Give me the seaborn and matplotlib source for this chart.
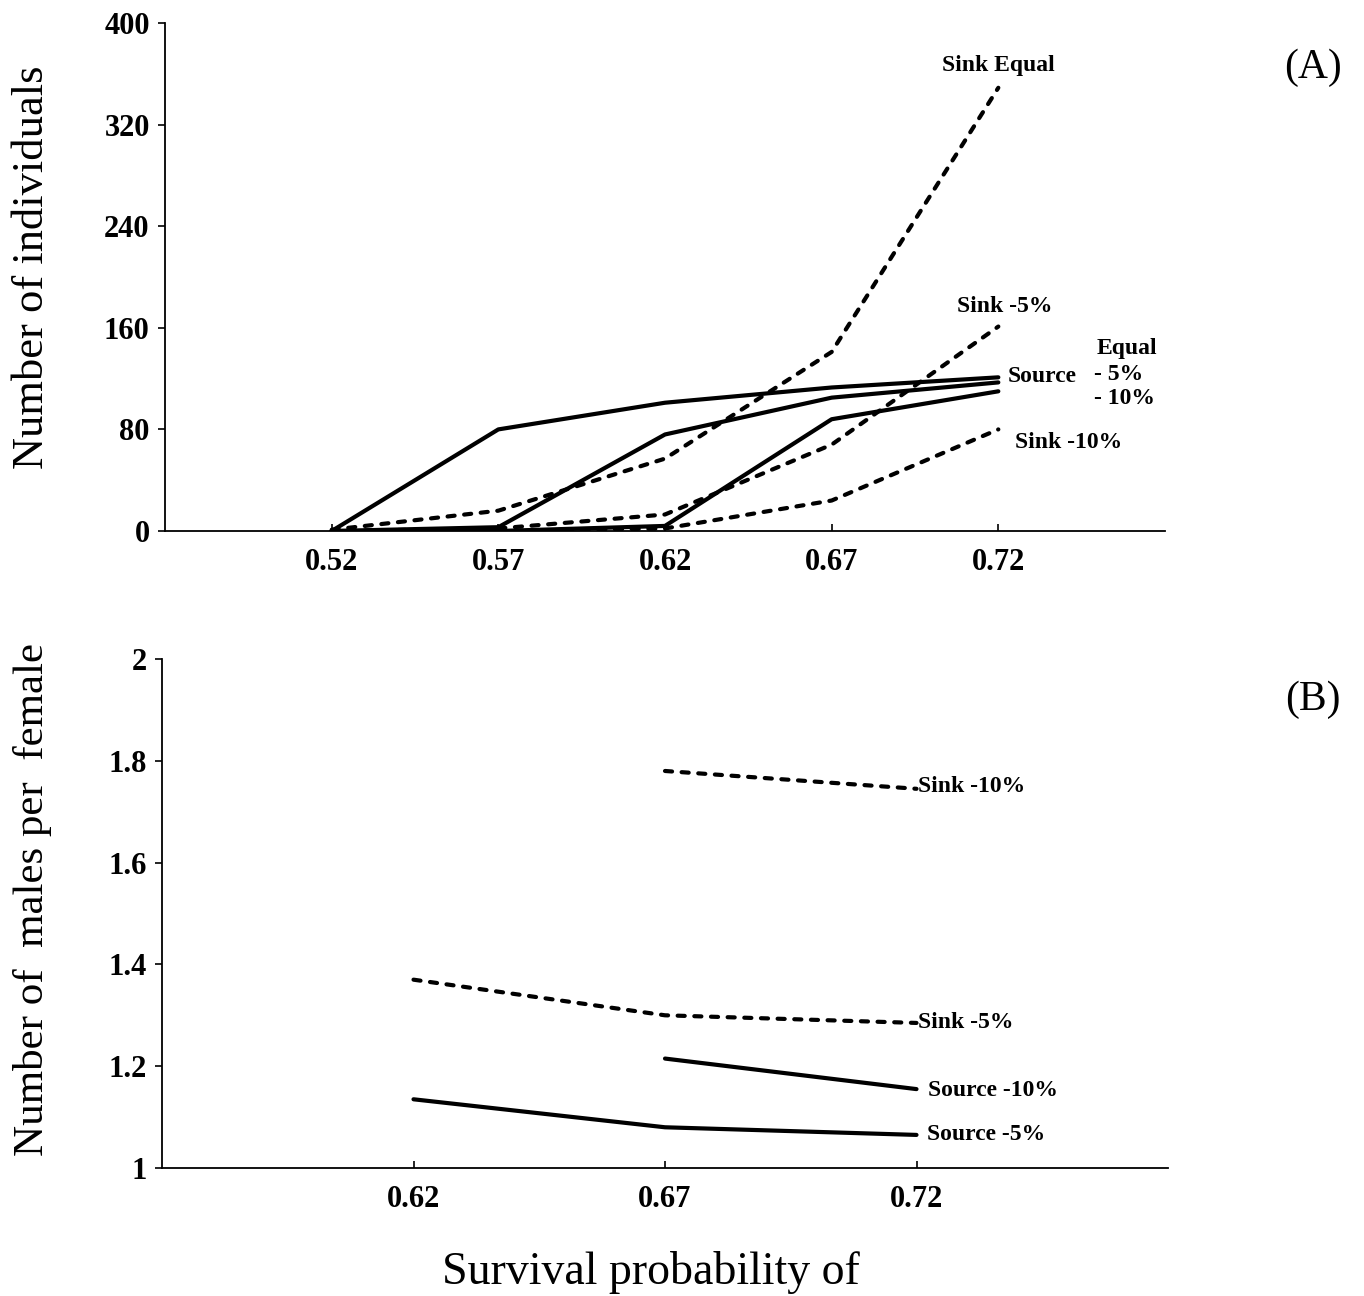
import numpy as np
import pandas as pd
import matplotlib
matplotlib.use("Agg")
import matplotlib.pyplot as plt
import seaborn as sns

# ---------------- data ----------------
# Panel A: number of individuals vs survival probability
surv_a = [0.52, 0.57, 0.62, 0.67, 0.72]
source_equal = [0, 80, 101, 113, 121]
source_m5 = [0, 3, 76, 105, 117]
source_m10 = [0, 0, 4, 88, 110]
sink_equal = [1, 16, 57, 141, 349]
sink_m5 = [0, 2, 13, 68, 161]
sink_m10 = [0, 0, 2, 24, 80]

# Panel B: number of males per female
surv_b = [0.62, 0.67, 0.72]
b_sink_m10 = [np.nan, 1.78, 1.745]
b_sink_m5 = [1.37, 1.30, 1.285]
b_source_m10 = [np.nan, 1.215, 1.155]
b_source_m5 = [1.135, 1.08, 1.065]

xticks_a = [0.52, 0.57, 0.62, 0.67, 0.72]
xticks_b = [0.62, 0.67, 0.72]
yticks_a = [0, 80, 160, 240, 320, 400]
yticks_b = [1, 1.2, 1.4, 1.6, 1.8, 2]
ytick_labels_b = ["1", "1.2", "1.4", "1.6", "1.8", "2"]

# ---------------- style ----------------
sns.set_style("ticks")
plt.rcParams["font.family"] = ["Liberation Serif", "DejaVu Serif"]
plt.rcParams["text.color"] = "black"
plt.rcParams["axes.labelcolor"] = "black"
plt.rcParams["xtick.color"] = "black"
plt.rcParams["ytick.color"] = "black"

W, H = 1364, 1296
fig = plt.figure(figsize=(W / 100, H / 100), dpi=100)


def long_frame(x, series):
    rows = []
    for name, kind, vals in series:
        for xi, v in zip(x, vals):
            rows.append({"surv": xi, "value": v, "series": name, "kind": kind})
    return pd.DataFrame(rows).dropna()


dfA = long_frame(surv_a, [
    ("Source Equal", "Source", source_equal),
    ("Source -5%", "Source", source_m5),
    ("Source -10%", "Source", source_m10),
    ("Sink Equal", "Sink", sink_equal),
    ("Sink -5%", "Sink", sink_m5),
    ("Sink -10%", "Sink", sink_m10),
])
dfB = long_frame(surv_b, [
    ("Sink -10%", "Sink", b_sink_m10),
    ("Sink -5%", "Sink", b_sink_m5),
    ("Source -10%", "Source", b_source_m10),
    ("Source -5%", "Source", b_source_m5),
])

dash_map = {"Source": "", "Sink": (1.7, 2.3)}

axA = fig.add_axes([165 / W, 1 - 531 / H, 1000 / W, 508 / H])
axB = fig.add_axes([162 / W, 1 - 1168 / H, 1006 / W, 509 / H])

for ax, df in ((axA, dfA), (axB, dfB)):
    names = df["series"].unique()
    sns.lineplot(data=df, x="surv", y="value", hue="series", style="kind",
                 palette={n: "black" for n in names}, dashes=dash_map,
                 estimator=None, sort=False, linewidth=3, legend=False,
                 dash_capstyle="round", solid_capstyle="round", ax=ax)

tick_font = dict(family="Liberation Serif", size=22, weight="bold", color="black")

# Panel A axes
axA.set_xlim(0.47, 0.77)
axA.set_ylim(0, 400)
axA.set_xticks(xticks_a)
axA.set_xticklabels([f"{v:.2f}" for v in xticks_a], fontdict=tick_font)
axA.set_yticks(yticks_a)
axA.set_yticklabels([str(v) for v in yticks_a], fontdict=tick_font)

# Panel B axes
axB.set_xlim(0.57, 0.77)
axB.set_ylim(1, 2)
axB.set_xticks(xticks_b)
axB.set_xticklabels([f"{v:.2f}" for v in xticks_b], fontdict=tick_font)
axB.set_yticks(yticks_b)
axB.set_yticklabels(ytick_labels_b, fontdict=tick_font)

for ax in (axA, axB):
    sns.despine(ax=ax)
    for s in ("left", "bottom"):
        ax.spines[s].set_linewidth(1.3)
        ax.spines[s].set_color("black")
    ax.tick_params(axis="y", direction="out", length=5, width=1.2, pad=6, colors="black")
    ax.tick_params(axis="x", direction="in", length=5, width=1.2, pad=12, colors="black")
    ax.set_xlabel("")

axA.set_ylabel("Number of individuals", fontsize=32, family="Liberation Serif", color="black")
axA.yaxis.set_label_coords(-0.113, 0.52)
axB.set_ylabel("Number of  males per  female", fontsize=31, family="Liberation Serif", color="black")
axB.yaxis.set_label_coords(-0.109, 0.527)

fig.text(651 / W, 1 - 1272 / H, "Survival probability of", fontsize=33,
         family="Liberation Serif", ha="center", va="center", color="black")


def label(x, y, s, size=17, weight="bold", ha="left"):
    fig.text(x / W, 1 - y / H, s, fontsize=size, weight=weight,
             family="Liberation Serif", ha=ha, va="center", color="black")


label(1313, 68, "(A)", size=30, weight="normal", ha="center")
label(1313, 700, "(B)", size=30, weight="normal", ha="center")

# Panel A annotations
label(942, 66, "Sink Equal")
label(957, 307, "Sink -5%")
label(1008, 377, "Source")
label(1097, 348, "Equal")
label(1094, 374, "- 5%")
label(1094, 399, "- 10%")
label(1015, 442, "Sink -10%")

# Panel B annotations
label(918, 787, "Sink -10%")
label(918, 1022, "Sink -5%")
label(928, 1091, "Source -10%")
label(927, 1135, "Source -5%")

fig.savefig("out.png", dpi=100, facecolor="white")
